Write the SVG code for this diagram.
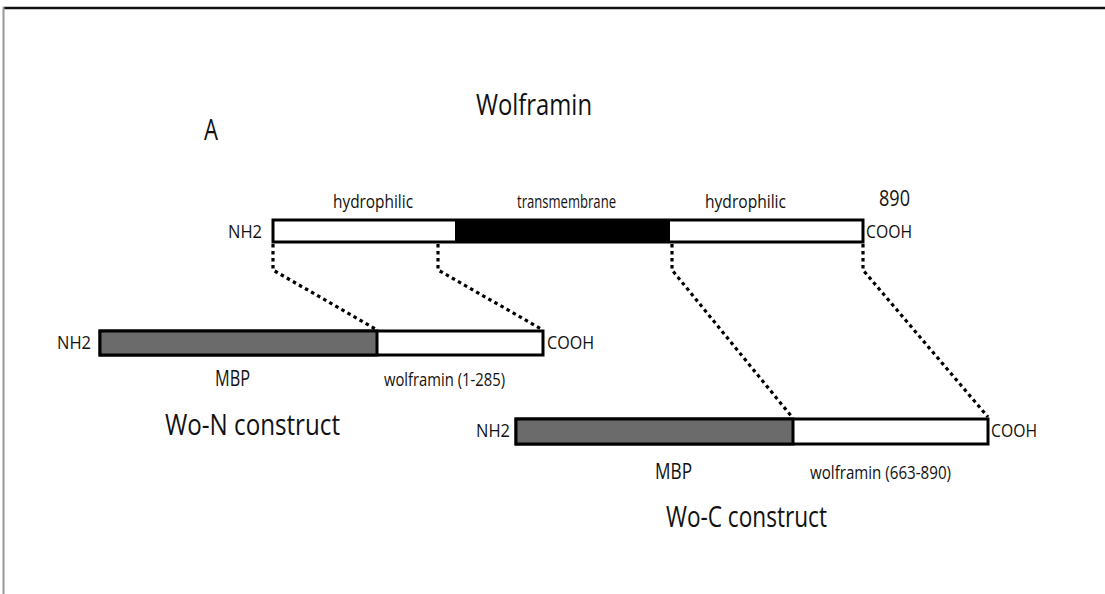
<svg xmlns="http://www.w3.org/2000/svg" width="1105" height="594" viewBox="0 0 1105 594">
  <style>
    text { font-family: "Open Sans", "Liberation Sans", sans-serif; fill: #111; }
    .lbl { font-size: 18px; }
    .big { font-size: 30px; }
    .mid { font-size: 21px; }
    .bar { stroke: #000; stroke-width: 3; }
    .white { fill: #fff; }
    .black { fill: #000; }
    .grey { fill: #6b6b6b; }
    .dot { fill: none; stroke: #000; stroke-width: 3.2; stroke-dasharray: 3.5 3.5; }
  </style>
  <rect width="1105" height="594" fill="#fff"/>
  <!-- frame -->
  <line x1="3" y1="8" x2="1105" y2="8" stroke="#111" stroke-width="2.5"/>
  <line x1="3.5" y1="7" x2="3.5" y2="594" stroke="#999" stroke-width="2"/>

  <text id="panel-label" class="big" x="204" y="140" textLength="14" lengthAdjust="spacingAndGlyphs">A</text>
  <text id="title" class="big" x="476" y="115" textLength="116" lengthAdjust="spacingAndGlyphs">Wolframin</text>

  <!-- full-length protein -->
  <g id="wolframin">
    <rect class="bar white" x="273" y="220" width="590" height="22"/>
    <rect class="black" x="455" y="220" width="215" height="22"/>
    <text class="lbl" x="333" y="208" textLength="80" lengthAdjust="spacingAndGlyphs">hydrophilic</text>
    <text class="lbl" x="517" y="208" textLength="99" lengthAdjust="spacingAndGlyphs">transmembrane</text>
    <text class="lbl" x="705" y="208" textLength="81" lengthAdjust="spacingAndGlyphs">hydrophilic</text>
    <text class="mid" x="879" y="206" textLength="31" lengthAdjust="spacingAndGlyphs">890</text>
    <text class="lbl" x="228" y="238" textLength="34" lengthAdjust="spacingAndGlyphs">NH2</text>
    <text class="lbl" x="866" y="238" textLength="46" lengthAdjust="spacingAndGlyphs">COOH</text>
  </g>

  <!-- N-terminal fusion -->
  <g id="wo-n">
    <rect class="bar white" x="100" y="331" width="443" height="24"/>
    <rect class="bar grey" x="100" y="331" width="277" height="24"/>
    <text class="lbl" x="57" y="349" textLength="34" lengthAdjust="spacingAndGlyphs">NH2</text>
    <text class="lbl" x="547" y="349" textLength="47" lengthAdjust="spacingAndGlyphs">COOH</text>
    <text class="mid" x="215" y="386" textLength="35" lengthAdjust="spacingAndGlyphs">MBP</text>
    <text class="lbl" x="384" y="386" textLength="121" lengthAdjust="spacingAndGlyphs">wolframin (1-285)</text>
    <text class="big" x="165" y="435" textLength="175" lengthAdjust="spacingAndGlyphs">Wo-N construct</text>
  </g>

  <!-- C-terminal fusion -->
  <g id="wo-c">
    <rect class="bar white" x="516" y="419" width="472" height="25"/>
    <rect class="bar grey" x="516" y="419" width="277" height="25"/>
    <text class="lbl" x="476" y="437" textLength="34" lengthAdjust="spacingAndGlyphs">NH2</text>
    <text class="lbl" x="991" y="437" textLength="46" lengthAdjust="spacingAndGlyphs">COOH</text>
    <text class="mid" x="655" y="479" textLength="37" lengthAdjust="spacingAndGlyphs">MBP</text>
    <text class="lbl" x="810" y="479" textLength="141" lengthAdjust="spacingAndGlyphs">wolframin (663-890)</text>
    <text class="big" x="666" y="527" textLength="161" lengthAdjust="spacingAndGlyphs">Wo-C construct</text>
  </g>

  <!-- region mapping guides -->
  <g id="connectors">
    <polyline class="dot" points="273,244 273,270 377,330"/>
    <polyline class="dot" points="438,244 438,270 543,330"/>
    <polyline class="dot" points="672,244 672,270 792,417"/>
    <polyline class="dot" points="863,244 863,270 988,417"/>
  </g>
</svg>
